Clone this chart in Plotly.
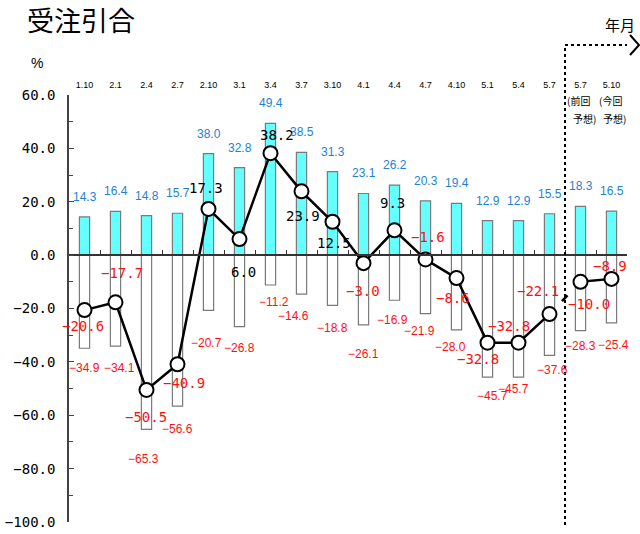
import plotly.graph_objects as go

# ---- data ----
categories = ["1.10", "2.1", "2.4", "2.7", "2.10", "3.1", "3.4", "3.7", "3.10",
              "4.1", "4.4", "4.7", "4.10", "5.1", "5.4", "5.7", "5.7", "5.10"]
positive = [14.3, 16.4, 14.8, 15.7, 38.0, 32.8, 49.4, 38.5, 31.3,
            23.1, 26.2, 20.3, 19.4, 12.9, 12.9, 15.5, 18.3, 16.5]
negative = [-34.9, -34.1, -65.3, -56.6, -20.7, -26.8, -11.2, -14.6, -18.8,
            -26.1, -16.9, -21.9, -28.0, -45.7, -45.7, -37.6, -28.3, -25.4]
di = [-20.6, -17.7, -50.5, -40.9, 17.3, 6.0, 38.2, 23.9, 12.5,
      -3.0, 9.3, -1.6, -8.6, -32.8, -32.8, -22.1, -10.0, -8.9]
y_ticks = [60, 40, 20, 0, -20, -40, -60, -80, -100]
n_actual = 16  # first 16 points are actual results, last 2 are forecasts

# ---- label placement (pixel offsets, style only) ----
di_dx = [-2, 6, -1, 6, -3, 4, 6, 1, 1, -1, -2, 2, -4, -10, -10, -12, 8, -2]
di_dy = [-16, 29, -27, -19, 21, -33, 18, -25, -21, -28, 27, 22, -20, -16, 17, 23, -22, 13]
neg_dx = [0, 4, -3, 0, -2, 0, 3, -8, 0, 0, -2, -6, -6, 5, -5, 3, 0, 2]
neg_dy = [20, 22, 30, 23, 33, 21, 17, 22, 23, 29, 20, 17, 17, 19, 12, 15, 15, 22]

x = list(range(len(categories)))

MONO = "DejaVu Sans Mono"
SANS = "Liberation Sans, Arial, sans-serif"
CJK = "Noto Sans CJK JP"
BLUE = "#1E82D2"
RED = "#FF1010"


def fmt(v):
    s = f"{v:.1f}"
    return s.replace("-", "\u2212")


fig = go.Figure()

fig.add_trace(go.Bar(x=x, y=positive, width=0.33,
                     marker=dict(color="#66FFFF", line=dict(color="#7a7a7a", width=1.2)),
                     hoverinfo="skip"))
fig.add_trace(go.Bar(x=x, y=negative, width=0.33,
                     marker=dict(color="white", line=dict(color="#7a7a7a", width=1.2)),
                     hoverinfo="skip"))

# broken connector between last actual and first forecast
fig.add_trace(go.Scatter(x=x[n_actual - 1:n_actual + 1], y=di[n_actual - 1:n_actual + 1],
                         mode="lines",
                         line=dict(color="black", width=2.5, dash="0px,18px,8px,300px")))

marker_style = dict(size=14, color="white", line=dict(color="black", width=2))
fig.add_trace(go.Scatter(x=x[:n_actual], y=di[:n_actual], mode="lines+markers",
                         line=dict(color="black", width=2.5), marker=marker_style))
fig.add_trace(go.Scatter(x=x[n_actual:], y=di[n_actual:], mode="lines+markers",
                         line=dict(color="black", width=2.5), marker=marker_style))

# dummy trace for the zero-line axis
fig.add_trace(go.Scatter(x=[None], y=[None], xaxis="x2", showlegend=False, hoverinfo="skip"))

annotations = []
for i in x:
    annotations.append(dict(x=i, y=positive[i], text=f"{positive[i]:.1f}", showarrow=False,
                            yshift=20, xanchor="center", yanchor="middle",
                            font=dict(family=SANS, size=12, color=BLUE)))
    annotations.append(dict(x=i, y=negative[i], text=f"{negative[i]:.1f}".replace("-", "\u2212"),
                            showarrow=False, xshift=neg_dx[i], yshift=-neg_dy[i],
                            xanchor="center", yanchor="middle",
                            font=dict(family=SANS, size=12, color=RED)))
    annotations.append(dict(x=i, y=di[i], text=fmt(di[i]), showarrow=False,
                            xshift=di_dx[i], yshift=di_dy[i],
                            xanchor="center", yanchor="middle",
                            font=dict(family=MONO, size=14,
                                      color="black" if di[i] >= 0 else RED)))

# forecast notes
for xi, shift1, shift2, word in [(16, -2, 4, "前回"), (17, -1, 3, "今回")]:
    annotations.append(dict(x=xi, xref="x", y=0.988, yref="paper", text="(" + word,
                            showarrow=False, xshift=shift1, xanchor="center", yanchor="middle",
                            font=dict(family=CJK, size=10, color="black")))
    annotations.append(dict(x=xi, xref="x", y=0.946, yref="paper", text="予想)",
                            showarrow=False, xshift=shift2, xanchor="center", yanchor="middle",
                            font=dict(family=CJK, size=10, color="black")))

annotations.append(dict(x=-0.057, y=1.075, xref="paper", yref="paper", text="%",
                        showarrow=False, xanchor="center", yanchor="middle",
                        font=dict(family=SANS, size=14, color="black")))
annotations.append(dict(x=0.987, y=1.164, xref="paper", yref="paper", text="年月",
                        showarrow=False, xanchor="center", yanchor="middle",
                        font=dict(family=CJK, size=15, color="black")))

shapes = [
    dict(type="line", xref="x", yref="paper", x0=15.5, x1=15.5, y0=-0.007, y1=1.117,
         line=dict(color="black", width=2, dash="dot")),
    dict(type="line", xref="x", yref="paper", x0=15.5, x1=17.68, y0=1.117, y1=1.117,
         line=dict(color="black", width=2, dash="dot")),
    dict(type="path", xref="paper", yref="paper",
         path="M 1.0054 1.1405 L 1.0215 1.117 L 1.0054 1.0937",
         line=dict(color="black", width=2)),
]

fig.update_layout(
    width=640, height=534,
    margin=dict(l=69, r=13, t=95, b=12, autoexpand=False),
    paper_bgcolor="white", plot_bgcolor="white",
    showlegend=False, barmode="overlay",
    title=dict(text="受注引合", x=27 / 640, xref="container", xanchor="left",
               y=1 - 22 / 534, yref="container", yanchor="middle",
               font=dict(family=CJK, size=27, color="black")),
    xaxis=dict(range=[-0.5, 17.5], side="top", tickvals=x, ticktext=categories,
               ticks="", showline=False, showgrid=False, zeroline=False, automargin=False,
               tickfont=dict(family=SANS, size=9, color="black"), ticklabelstandoff=4),
    xaxis2=dict(range=[-0.5, 17.5], overlaying="x", anchor="free", position=0.625,
                side="bottom", tickvals=[v - 0.5 for v in x] + [len(x) - 0.5],
                ticks="inside", ticklen=4, tickwidth=1, tickcolor="#333", automargin=False,
                showticklabels=False, showline=True, linecolor="#333", linewidth=1.5,
                showgrid=False, zeroline=False),
    yaxis=dict(range=[-100, 60], tickvals=y_ticks, tickformat=".1f",
               ticks="inside", ticklen=5, tickwidth=1, tickcolor="#444",
               minor=dict(dtick=10, ticks="inside", ticklen=4, tickcolor="#444"),
               showline=True, linecolor="#444", linewidth=1.5, automargin=False,
               showgrid=False, zeroline=False, ticklabelstandoff=9,
               tickfont=dict(family=MONO, size=14, color="black")),
    annotations=annotations,
    shapes=shapes,
)

fig.write_html("out.html", config={"displayModeBar": False},
               post_script="document.body.style.margin='0';")
